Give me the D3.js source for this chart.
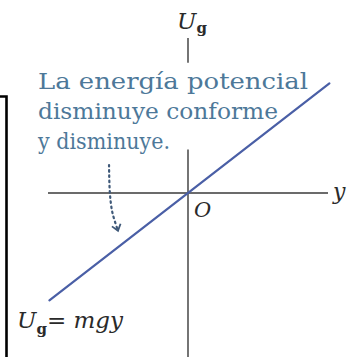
<!DOCTYPE html>
<html>
<head>
<meta charset="utf-8">
<script src="https://cdn.jsdelivr.net/npm/d3@7"></script>
<style>
  html, body { margin: 0; padding: 0; background: #ffffff; }
  svg { display: block; }
  svg text { font-family: "DejaVu Serif", "Liberation Serif", "Noto Serif", serif; }
</style>
</head>
<body>
<svg id="chart" width="352" height="357"></svg>
<script>
// Gravitational potential energy U_g = m g y as a straight line through the origin.
const positionDomain = [-1, 1];          // extent of the horizontal (y) axis
const energyDomain = [-1, 1];
const mg = 0.775;                         // slope of the line (m·g)
const lineY = [-0.99, 1.01];              // y values at the two ends of the line
const lineU = lineY.map(v => mg * v);     // U_g = m g y
const verticalTop = [1.107, 0.93];        // short stub of the U_g axis above the note
const verticalMain = [0.31, -1.2];        // rest of the U_g axis
const noteLines = ["La energía potencial", "disminuye conforme", "y disminuye."];

const svg = d3.select("#chart");
const x = d3.scaleLinear().domain(positionDomain).range([48, 328]);
const u = d3.scaleLinear().domain(energyDomain).range([333, 53]);

const axisColor = "#3a3a3a";

// left frame edge
svg.append("path")
  .attr("d", "M0,96.5 H6.5 V357")
  .attr("fill", "none")
  .attr("stroke", "#000")
  .attr("stroke-width", 2.6);

// horizontal axis
svg.append("line")
  .attr("x1", x(positionDomain[0])).attr("x2", x(positionDomain[1]))
  .attr("y1", u(0)).attr("y2", u(0))
  .attr("stroke", axisColor).attr("stroke-width", 1.6);

// vertical axis in two pieces
[verticalTop, verticalMain].forEach(seg => {
  svg.append("line")
    .attr("x1", x(0)).attr("x2", x(0))
    .attr("y1", u(seg[0])).attr("y2", u(seg[1]))
    .attr("stroke", axisColor).attr("stroke-width", 1.4);
});

// U_g = m g y line
const pts = lineY.map((v, i) => [x(v), u(lineU[i])]);
svg.append("path")
  .attr("d", d3.line()(pts))
  .attr("fill", "none")
  .attr("stroke", "#4a5fa6")
  .attr("stroke-width", 2.2)
  .attr("stroke-linecap", "round");

// axis labels
const ugTop = svg.append("text")
  .attr("x", x(0) - 11).attr("y", 29)
  .attr("font-size", 23).attr("fill", "#2a2a2a");
ugTop.append("tspan").attr("font-style", "italic").text("U");
ugTop.append("tspan").attr("font-weight", "bold").attr("font-size", 15).attr("dy", 4).text("g");

svg.append("text")
  .attr("x", x(1) + 5).attr("y", u(0) + 6)
  .attr("font-style", "italic")
  .attr("font-size", 22).attr("fill", "#2a2a2a")
  .text("y");

svg.append("text")
  .attr("x", x(0) + 6).attr("y", u(0) + 24)
  .attr("font-style", "italic")
  .attr("font-size", 21).attr("fill", "#2a2a2a")
  .text("O");

// note text
const noteWidths = [270, 240, 132];
noteLines.forEach((t, i) => {
  svg.append("text")
    .attr("x", 38).attr("y", 89 + i * 30)
    .attr("font-size", 21.5)
    .attr("fill", "#4d7899")
    .attr("textLength", noteWidths[i])
    .attr("lengthAdjust", "spacingAndGlyphs")
    .text(t);
});

// dotted arrow from the note down toward the line
const arrowPts = [[-0.564, 0.2], [-0.558, 0.0], [-0.54, -0.14], [-0.5, -0.27]]
  .map(d => [x(d[0]), u(d[1])]);
svg.append("path")
  .attr("d", d3.line().curve(d3.curveCatmullRom)(arrowPts))
  .attr("fill", "none")
  .attr("stroke", "#3e5878")
  .attr("stroke-width", 2.2)
  .attr("stroke-dasharray", "1.6 3.6")
  .attr("stroke-linecap", "round");
const end = arrowPts[arrowPts.length - 1];
const prev = arrowPts[arrowPts.length - 2];
const ang = Math.atan2(end[1] - prev[1], end[0] - prev[0]);
const head = svg.append("g")
  .attr("transform", `translate(${end[0]},${end[1]}) rotate(${ang * 180 / Math.PI})`);
head.append("path")
  .attr("d", "M-6,-4.5 L0,0 L-6,4.5")
  .attr("fill", "none").attr("stroke", "#3e5878").attr("stroke-width", 1.8);

// formula label
const formula = svg.append("text")
  .attr("x", 17).attr("y", 328)
  .attr("font-size", 23).attr("fill", "#2a2a2a");
formula.append("tspan").attr("font-style", "italic").text("U");
formula.append("tspan").attr("font-weight", "bold").attr("font-size", 15).attr("dy", 6).text("g");
formula.append("tspan").attr("dy", -6).text("=\u00a0");
formula.append("tspan").attr("font-style", "italic").text("mgy");
</script>
</body>
</html>
